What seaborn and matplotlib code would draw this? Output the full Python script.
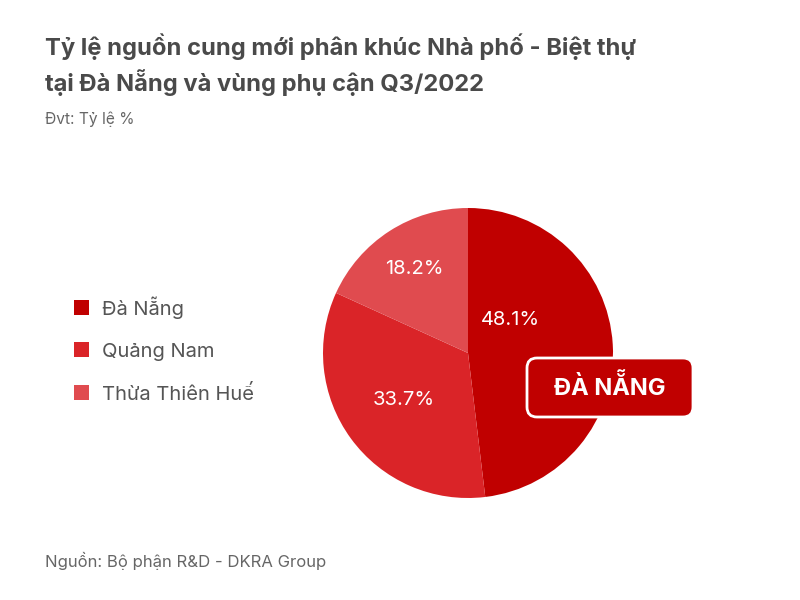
import matplotlib
matplotlib.use("Agg")
import matplotlib.pyplot as plt
from matplotlib.patches import Patch, FancyBboxPatch
from matplotlib.transforms import IdentityTransform
import seaborn as sns

# Dữ liệu
khu_vuc = ["Đà Nẵng", "Quảng Nam", "Thừa Thiên Huế"]
ty_le = [48.1, 33.7, 18.2]
mau = ["#C00000", "#DA2428", "#E04B4F"]

sns.set_theme(style="white")
plt.rcParams["font.family"] = ["Inter", "DejaVu Sans"]

fig = plt.figure(figsize=(8, 6), dpi=100)
fig.patch.set_facecolor("white")

# Biểu đồ tròn
ax = fig.add_axes([0.40375, 0.17, 0.3625, 0.48333])
wedges, texts, autotexts = ax.pie(
    ty_le, colors=mau, startangle=90, counterclock=False,
    autopct="%.1f%%", pctdistance=0.6,
    wedgeprops=dict(linewidth=0),
    textprops=dict(color="white", fontsize=14.5, fontweight="normal"),
)
ax.set_xlim(-1, 1)
ax.set_ylim(-1, 1)
ax.set_aspect("equal")

# dời nhãn Đà Nẵng lên để tránh hộp chú thích
autotexts[0].set_position((0.29, 0.23))
x, y = autotexts[1].get_position()
autotexts[1].set_position((x * 0.545 / 0.6, y * 0.545 / 0.6))
x, y = autotexts[2].get_position()
autotexts[2].set_position((x * 0.69 / 0.6, y * 0.69 / 0.6))

# Hộp nhãn
hop = FancyBboxPatch((527, 600 - 417), 166, 59,
                     boxstyle="round,pad=0,rounding_size=10",
                     facecolor="#C00000", edgecolor="white", linewidth=2,
                     transform=IdentityTransform())
fig.patches.append(hop)
fig.text(610 / 800, 1 - 387 / 600, "ĐÀ NẴNG", ha="center", va="center",
         color="white", fontsize=17, fontweight="bold")

# Chú thích
handles = [Patch(facecolor=c, edgecolor="none") for c in mau]
leg = fig.legend(handles, khu_vuc, loc="upper left",
                 bbox_to_anchor=(56 / 800, 1 - 278 / 600), frameon=False,
                 fontsize=14.5, handlelength=0.75, handleheight=0.75,
                 handletextpad=0.65, labelspacing=1.18)
for t in leg.get_texts():
    t.set_color("#555555")

# Tiêu đề
fig.text(45 / 800, 1 - 47 / 600, "Tỷ lệ nguồn cung mới phân khúc Nhà phố - Biệt thự",
         fontsize=17.1, fontweight="bold", color="#4a4a4a", va="center")
fig.text(45 / 800, 1 - 83 / 600, "tại Đà Nẵng và vùng phụ cận Q3/2022",
         fontsize=17.1, fontweight="bold", color="#4a4a4a", va="center")
fig.text(45 / 800, 1 - 119 / 600, "Đvt: Tỷ lệ %",
         fontsize=11.2, color="#666666", va="center")
fig.text(45 / 800, 1 - 561 / 600, "Nguồn: Bộ phận R&D - DKRA Group",
         fontsize=12, color="#666666", va="center")

fig.savefig("out.png", dpi=100, facecolor="white")
